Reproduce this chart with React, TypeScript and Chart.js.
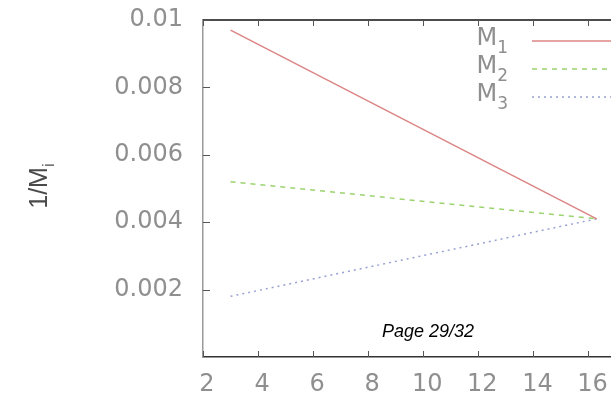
import React, { useEffect, useRef } from 'react';
import { Chart, registerables } from 'chart.js';

Chart.register(...registerables);

// ---- data ----
const xValues = [3, 16.3];
const m1Values = [0.0097, 0.0041];
const m2Values = [0.0052, 0.0041];
const m3Values = [0.0018, 0.0041];
const seriesBase = ['M', 'M', 'M'];
const seriesSubs = ['1', '2', '3'];
const xTicks = [2, 4, 6, 8, 10, 12, 14, 16];
const yTicks = [0.002, 0.004, 0.006, 0.008, 0.01];
const yTickLabels = ['0.002', '0.004', '0.006', '0.008', '0.01'];
const yTitleBase = '1/M';
const yTitleSub = 'i';
const pageText = 'Page 29/32';

const seriesColors = ['#dc8585', '#9bd46e', '#97a3d2'];
const seriesDash = [[], [5, 5], [2, 4]];

const TICK_FONT = '24px "DejaVu Sans"';
const TICK_COLOR = '#8f8f8f';

const decor = {
  id: 'decor',
  afterDraw(chart: any) {
    const { ctx, chartArea: ca, scales } = chart;
    const x = scales.x;
    const y = scales.y;
    ctx.save();
    // top frame line
    ctx.strokeStyle = '#111';
    ctx.lineWidth = 1.5;
    ctx.beginPath();
    ctx.moveTo(ca.left, ca.top);
    ctx.lineTo(ca.right + 5, ca.top);
    ctx.stroke();
    // inward tick marks
    ctx.lineWidth = 1;
    ctx.strokeStyle = '#555';
    ctx.beginPath();
    xTicks.forEach((v) => {
      const px = Math.round(x.getPixelForValue(v)) + 0.5;
      ctx.moveTo(px, ca.bottom);
      ctx.lineTo(px, ca.bottom - 6);
      ctx.moveTo(px, ca.top);
      ctx.lineTo(px, ca.top + 6);
    });
    yTicks.forEach((v) => {
      const py = Math.round(y.getPixelForValue(v)) + 0.5;
      ctx.moveTo(ca.left, py);
      ctx.lineTo(ca.left + 7, py);
    });
    ctx.stroke();

    // y axis title, rotated
    ctx.save();
    ctx.translate(47, 186);
    ctx.rotate(-Math.PI / 2);
    ctx.fillStyle = '#4a4a4a';
    ctx.font = '25px "Liberation Sans"';
    const wMain = ctx.measureText(yTitleBase).width;
    ctx.font = '17px "Liberation Sans"';
    const wSub = ctx.measureText(yTitleSub).width;
    const total = wMain + wSub;
    ctx.textBaseline = 'alphabetic';
    ctx.textAlign = 'left';
    ctx.font = '25px "Liberation Sans"';
    ctx.fillText(yTitleBase, -total / 2, 0);
    ctx.font = '17px "Liberation Sans"';
    ctx.fillText(yTitleSub, -total / 2 + wMain, 7);
    ctx.restore();

    // legend
    chart.data.datasets.forEach((ds: any, i: number) => {
      const ly = 41 + i * 28;
      ctx.font = '17px "DejaVu Sans"';
      const ws = ctx.measureText(seriesSubs[i]).width;
      ctx.fillStyle = TICK_COLOR;
      ctx.textAlign = 'right';
      ctx.textBaseline = 'alphabetic';
      ctx.fillText(seriesSubs[i], 508, ly + 12);
      ctx.font = TICK_FONT;
      ctx.fillText(seriesBase[i], 508 - ws, ly + 4);
      ctx.strokeStyle = ds.borderColor;
      ctx.lineWidth = ds.borderWidth;
      ctx.setLineDash(ds.borderDash || []);
      ctx.beginPath();
      ctx.moveTo(532, ly);
      ctx.lineTo(ca.right + 5, ly);
      ctx.stroke();
      ctx.setLineDash([]);
    });

    // page annotation
    ctx.fillStyle = '#000';
    ctx.font = 'italic 18px "Liberation Sans"';
    ctx.textAlign = 'left';
    ctx.textBaseline = 'alphabetic';
    ctx.fillText(pageText, 382, 337);
    ctx.restore();
  },
};

export default function App() {
  const ref = useRef<HTMLCanvasElement | null>(null);
  useEffect(() => {
    if (!ref.current) return;
    const mk = (vals: number[]) => xValues.map((xv, i) => ({ x: xv, y: vals[i] }));
    const chart = new Chart(ref.current, {
      type: 'line',
      data: {
        datasets: [m1Values, m2Values, m3Values].map((vals, i) => ({
          label: seriesBase[i] + seriesSubs[i],
          data: mk(vals),
          borderColor: seriesColors[i],
          borderWidth: 1.5,
          borderDash: seriesDash[i],
          pointRadius: 0,
          fill: false,
          tension: 0,
        })),
      },
      options: {
        responsive: false,
        animation: false,
        layout: { padding: { top: 20, left: 0, right: 0, bottom: 0 } },
        plugins: { legend: { display: false }, tooltip: { enabled: false } },
        scales: {
          x: {
            type: 'linear',
            min: 2,
            max: 17,
            afterBuildTicks: (s: any) => {
              s.ticks = xTicks.map((v) => ({ value: v }));
            },
            afterFit: (s: any) => {
              s.height = 39;
              s.paddingLeft = 0;
              s.paddingRight = 0;
            },
            grid: { display: false, drawTicks: false },
            border: { display: true, color: '#333', width: 1.5 },
            ticks: {
              padding: 13,
              labelOffset: 4,
              maxRotation: 0,
              color: TICK_COLOR,
              font: { family: 'DejaVu Sans', size: 24 },
              callback: (v: any) => String(v),
            },
          },
          y: {
            type: 'linear',
            min: 0,
            max: 0.01,
            afterBuildTicks: (s: any) => {
              s.ticks = yTicks.map((v) => ({ value: v }));
            },
            afterFit: (s: any) => {
              s.width = 203;
              s.paddingTop = 0;
              s.paddingBottom = 0;
            },
            grid: { display: false, drawTicks: false },
            border: { display: true, color: '#999', width: 1.5 },
            ticks: {
              padding: 20,
              color: TICK_COLOR,
              font: { family: 'DejaVu Sans', size: 24 },
              callback: (_v: any, idx: number) => yTickLabels[idx],
            },
          },
        },
      },
      plugins: [decor],
    });
    return () => chart.destroy();
  }, []);
  return (
    <div
      style={{
        position: 'absolute',
        left: 0,
        top: 0,
        width: 611,
        height: 396,
        overflow: 'hidden',
        background: '#fff',
      }}
    >
      <canvas ref={ref} width={616} height={396} style={{ display: 'block' }} />
    </div>
  );
}
